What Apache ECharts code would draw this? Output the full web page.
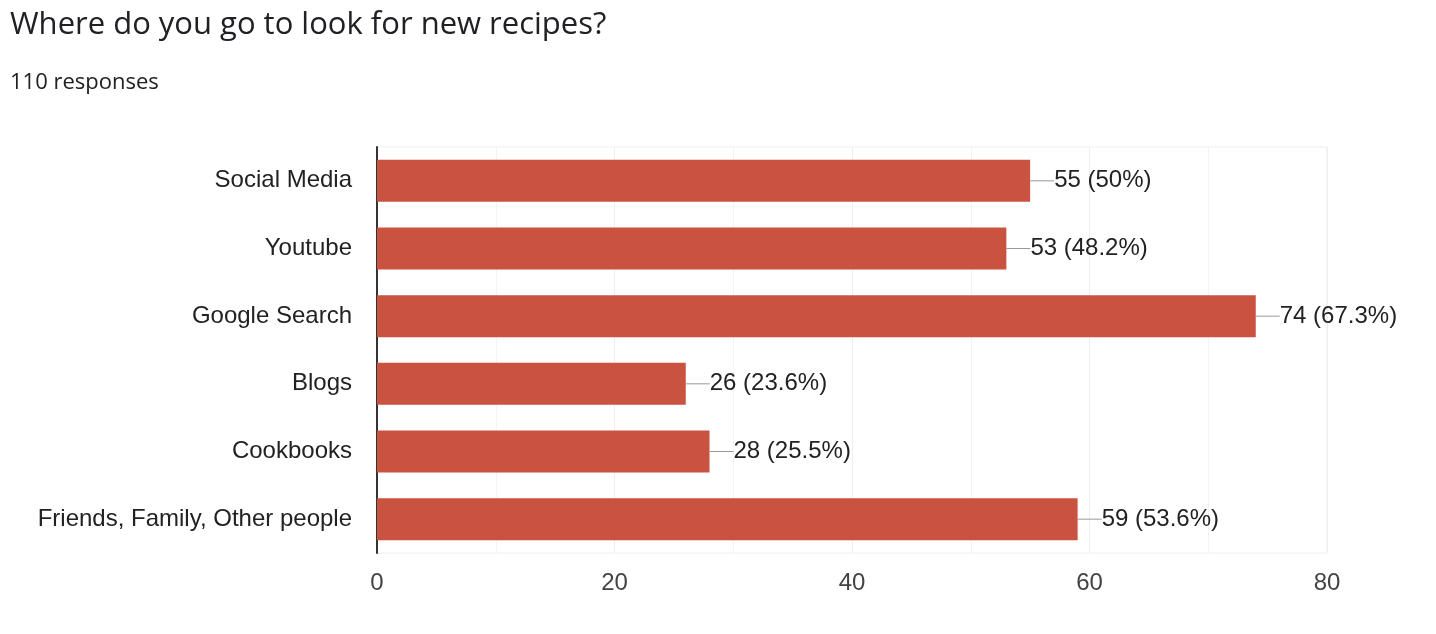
<!DOCTYPE html>
<html><head><meta charset="utf-8">
<script src="https://cdn.jsdelivr.net/npm/echarts@6/dist/echarts.min.js"></script>
<style>html,body{margin:0;padding:0;background:#fff}#c{width:1436px;height:634px}</style>
</head><body><div id="c"></div>
<script>
const categories = ["Social Media","Youtube","Google Search","Blogs","Cookbooks","Friends, Family, Other people"];
const counts = [55, 53, 74, 26, 28, 59];
const percents = ["50%","48.2%","67.3%","23.6%","25.5%","53.6%"];
const xTicks = [0, 20, 40, 60, 80];
const FONT = "'Liberation Sans', Arial, sans-serif";

const chart = echarts.init(document.getElementById('c'));
chart.setOption({
  animation: false,
  backgroundColor: '#fff',
  title: [
    {text: 'Where do you go to look for new recipes?', left: 10, top: 10, padding: 0,
     textStyle: {fontFamily: "'Open Sans'", fontSize: 31, fontWeight: 'normal', color: '#202124'}},
    {text: '110 responses', left: 10, top: 72, padding: 0,
     textStyle: {fontFamily: "'Open Sans'", fontSize: 22, fontWeight: 'normal', color: '#202124'}}
  ],
  grid: {left: 377, right: 109, top: 147, bottom: 81, show: true, borderColor: '#eeeeee', borderWidth: 1},
  xAxis: {
    type: 'value', min: xTicks[0], max: xTicks[xTicks.length-1], interval: 20,
    axisLine: {show: false}, axisTick: {show: false},
    splitLine: {show: true, lineStyle: {color: '#eeeeee', width: 1}},
    minorTick: {show: false, splitNumber: 2},
    minorSplitLine: {show: true, lineStyle: {color: '#f3f3f3', width: 1}},
    axisLabel: {fontFamily: FONT, fontSize: 24, color: '#444', margin: 18}
  },
  yAxis: {
    type: 'category', data: categories, inverse: true,
    axisLine: {show: true, lineStyle: {color: '#333', width: 2}},
    axisTick: {show: false},
    axisLabel: {fontFamily: FONT, fontSize: 24, color: '#222', margin: 25}
  },
  series: [{
    type: 'bar', data: counts, barCategoryGap: '38%',
    itemStyle: {color: '#c95241'},
    label: {
      show: true, position: 'right', distance: 0,
      fontFamily: FONT, fontSize: 24, color: '#222',
      formatter: p => counts[p.dataIndex] + ' (' + percents[p.dataIndex] + ')'
    },
    labelLayout: {dx: 24},
    labelLine: {show: true, lineStyle: {color: '#999', width: 1}}
  }]
});
</script></body></html>
